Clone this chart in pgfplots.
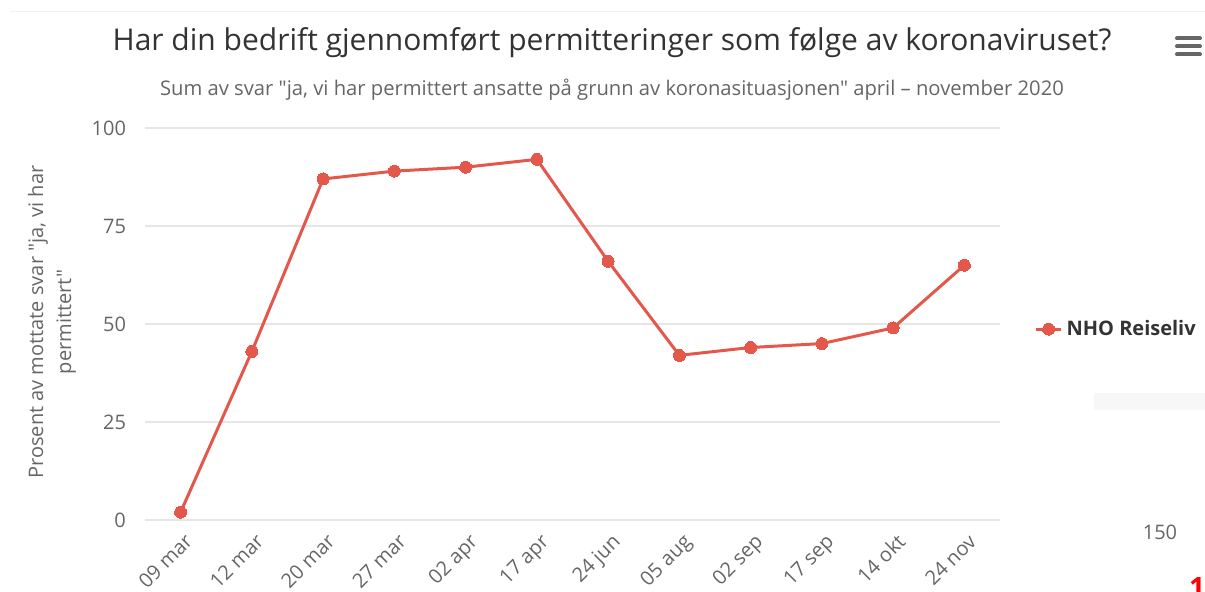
\documentclass[border=0pt]{standalone}
\usepackage{pgfplots}
\pgfplotsset{compat=1.18}
\usepackage{fontspec}
\setmainfont{Open Sans}[Ligatures=TeXOff]
\definecolor{lineRed}{RGB}{228,88,76}
\definecolor{txtDark}{HTML}{333333}
\definecolor{txtGray}{HTML}{666666}
\definecolor{gridGray}{HTML}{E6E6E6}
\begin{document}
\begin{tikzpicture}[x=0.5pt,y=0.5pt]
\useasboundingbox (0,0) rectangle (1205,592);
\fill[white] (0,0) rectangle (1205,592);
\draw[color=black!6, line width=0.5pt] (10,580)--(1205,580);
\node[text=txtDark, font=\fontsize{15}{18}\selectfont] at (612,549) {Har din bedrift gjennomført permitteringer som følge av koronaviruset?};
\node[text=txtGray, font=\fontsize{10.1}{12}\selectfont] at (612,502) {Sum av svar "ja, vi har permittert ansatte på grunn av koronasituasjonen" april – november 2020};
\node[text=txtGray, font=\fontsize{10}{14}\selectfont, rotate=90, align=center] at (52,270) {Prosent av mottate svar "ja, vi har\\permittert"};
\foreach \yy in {553.5,545.5,537.5} {\draw[txtGray, line width=2pt, line cap=round] (1177,\yy)--(1200,\yy);}
\fill[black!3] (1094,199) rectangle (1205,182);
\node[text=txtGray, font=\fontsize{10}{12}\selectfont] at (1160,60) {150};
\node[text=red, font=\fontsize{14}{16}\selectfont\bfseries, anchor=north] at (1197,22) {1};
\begin{axis}[
  at={(72.5pt,36pt)}, anchor=south west,
  scale only axis, width=427.5pt, height=196pt,
  xmin=-0.5, xmax=11.5, ymin=0, ymax=100,
  xtick={0,...,11},
  xticklabels={09 mar,12 mar,20 mar,27 mar,02 apr,17 apr,24 jun,05 aug,02 sep,17 sep,14 okt,24 nov},
  ytick={0,25,50,75,100},
  /pgf/number format/assume math mode=true,
  axis line style={draw=none},
  major tick length=0pt,
  ymajorgrids, grid style={gridGray, line width=0.6pt},
  tick label style={font=\fontsize{10}{12}\selectfont, text=txtGray},
  yticklabel style={anchor=east, xshift=-6pt},
  xticklabel style={rotate=45, anchor=north east, yshift=-2pt},
  clip=false,
  legend style={draw=none, fill=none, at={(axis description cs:1.04,0.487)}, anchor=west,
    font=\fontsize{10}{12}\selectfont\bfseries, text=txtDark, inner sep=0pt},
  legend image code/.code={\draw[mark repeat=2,mark phase=2] plot coordinates {(0pt,0pt)(6.25pt,0pt)(12.5pt,0pt)};},
]
\addplot[lineRed, line width=1.5pt, mark=*, mark size=3pt, mark options={fill=lineRed, draw=lineRed, line width=0pt}]
  coordinates {(0,2) (1,43) (2,87) (3,89) (4,90) (5,92) (6,66) (7,42) (8,44) (9,45) (10,49) (11,65)};
\addlegendentry{NHO Reiseliv}
\end{axis}
\end{tikzpicture}
\end{document}
